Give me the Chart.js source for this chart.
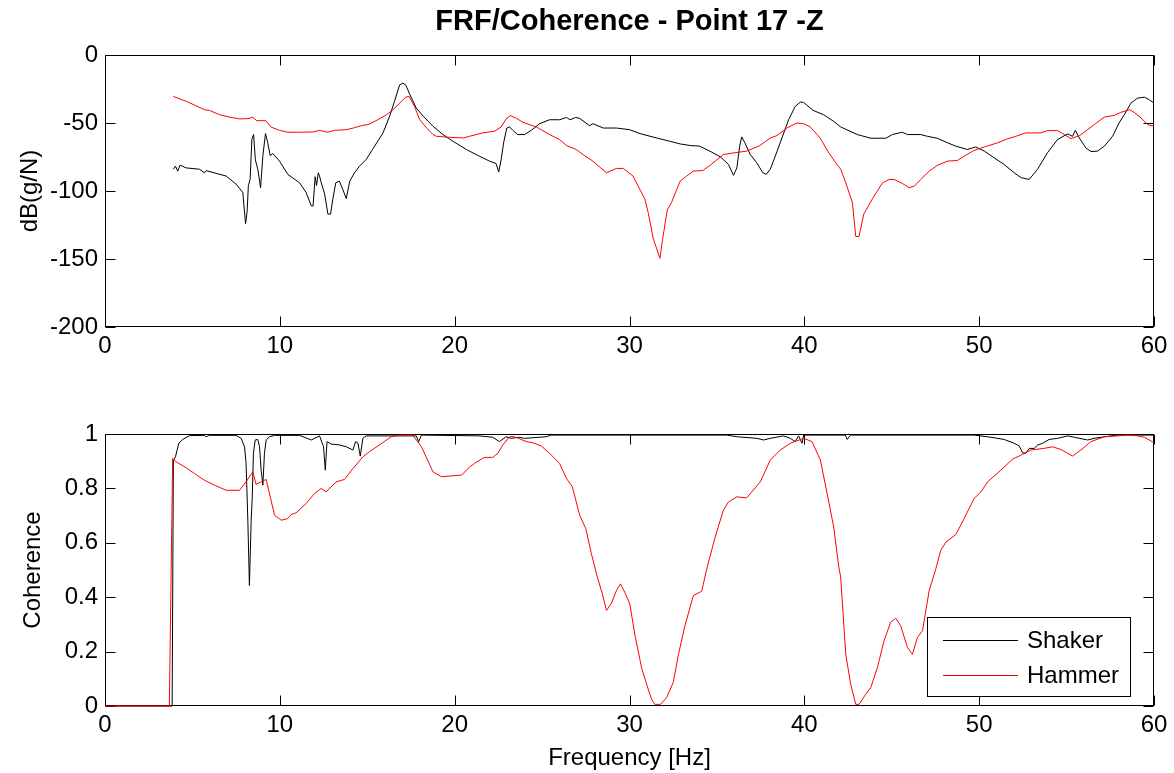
<!DOCTYPE html>
<html><head><meta charset="utf-8">
<script src="https://cdn.jsdelivr.net/npm/chart.js@4.4.1/dist/chart.umd.min.js"></script>
<style>
html,body{margin:0;padding:0;background:#fff;}
#wrap{position:relative;width:1174px;height:773px;overflow:hidden;}
canvas{position:absolute;left:0;}
#c1{top:0}
#c2{top:380px}
</style></head><body>
<div id="wrap"><canvas id="c1" width="1174" height="380"></canvas><canvas id="c2" width="1174" height="393"></canvas></div>
<script>
// ---------- DATA ----------
const seriesNames = ['Shaker', 'Hammer'];
const xTicksHz = [0, 10, 20, 30, 40, 50, 60];
const frfTicks = [-200, -150, -100, -50, 0];
const cohTicks = [0, 0.2, 0.4, 0.6, 0.8, 1];

const frfShakerHz = [3.91,4.03,4.16,4.29,4.64,5.4,5.69,5.78,6.35,6.93,7.5,7.88,8.04,8.13,8.2,8.3,8.4,8.5,8.6,8.74,8.9,9.03,9.18,9.31,9.45,9.6,9.98,10.46,11.13,11.5,11.8,11.9,12.02,12.1,12.2,12.27,12.37,12.56,12.75,12.9,13.03,13.2,13.4,13.6,13.8,14.0,14.27,14.56,14.94,15.3,15.9,16.28,16.56,16.85,17.04,17.2,17.4,17.8,18.2,18.76,19.33,19.9,20.67,21.41,21.99,22.37,22.52,22.66,22.8,22.98,23.14,23.33,23.6,24.0,24.38,24.86,25.43,26.0,26.4,26.6,26.92,27.15,27.72,27.9,28.5,29.25,30.0,30.6,31.55,32.3,32.9,33.5,34.0,34.6,35.2,35.66,35.95,36.14,36.3,36.42,36.6,36.9,37.28,37.63,37.82,38.05,38.34,38.72,39.1,39.48,39.77,39.96,40.5,41.1,41.68,42.08,43.03,43.8,44.66,45.04,45.6,45.9,46.66,47.04,47.6,48.2,48.66,49.33,49.8,50.3,50.86,51.43,52.0,52.4,52.86,53.34,53.9,54.48,55.06,55.34,55.5,55.73,56.1,56.4,56.77,57.16,57.63,58.0,58.3,58.68,59.06,59.45,59.73,60];
const frfShakerDb = [-84,-81.7,-85.4,-81,-83,-84,-86.6,-85,-87,-89,-95,-101,-124,-115,-96,-91.5,-62,-58.5,-77,-84,-97.6,-74,-57.8,-64.6,-74,-72.4,-78,-87.8,-94,-101,-111,-111,-89.5,-96,-86.6,-89,-94,-102,-117,-117,-106,-94,-92.7,-98.8,-105.6,-92.7,-86.6,-81.7,-76.8,-69.5,-57.3,-45,-34,-22,-20.7,-22,-28,-39,-45,-52.4,-58.5,-63.4,-69.5,-74.4,-78,-79.8,-86,-76.8,-64.6,-53.7,-52.9,-55.4,-58.5,-58.5,-55.4,-50.5,-47.6,-47.6,-45.9,-47.6,-45.9,-46.6,-52,-50.5,-53.7,-53.7,-54.9,-57.8,-61,-63.4,-65.4,-66.6,-67,-70.7,-74.9,-80.5,-88.5,-83,-67,-60.2,-64.6,-73,-79.3,-86.6,-87.8,-84,-74.4,-61,-47.6,-37.8,-34.6,-34.9,-40.7,-43.9,-48.8,-52.9,-58.5,-61.2,-61.2,-58.5,-56.8,-58.5,-58.5,-59.8,-61.2,-64.6,-67,-69.5,-67.6,-70.7,-75.6,-80.5,-86.6,-90.2,-91.5,-84,-72,-62.2,-58,-59.8,-55.4,-61,-68.3,-71,-70.7,-67,-59.8,-50,-43.9,-35.4,-31.7,-31,-32.9,-35.4];

const frfHammerHz = [3.91,4.64,5.2,5.69,5.97,6.55,7.1,7.7,8.17,8.45,8.68,9.2,9.5,9.98,10.46,11.13,11.9,12.27,12.75,13.13,13.8,14.2,14.75,15.04,15.5,16.1,16.47,16.85,17.2,17.4,17.7,18.0,18.4,18.76,18.95,19.7,20.5,20.84,21.6,22.28,22.66,22.94,23.17,23.5,23.9,24.67,25.43,26.0,26.4,26.96,27.34,27.9,28.68,29.25,29.64,30.2,30.88,31.07,31.36,31.74,31.9,32.16,32.4,32.9,33.27,33.65,34.2,34.6,35.37,35.95,36.7,37.46,38.05,38.43,39.0,39.58,39.96,40.34,40.9,41.4,41.87,42.08,42.37,42.75,42.94,43.13,43.4,43.9,44.47,44.85,45.13,45.6,46.0,46.3,46.66,47.14,47.6,48.2,48.76,49.14,49.7,50.3,51.05,51.6,52.0,52.67,53.53,53.9,54.48,54.87,55.25,55.73,56.2,56.58,57.16,57.73,58.1,58.6,58.87,59.26,59.64,60];
const frfHammerDb = [-30.5,-34,-37.3,-40.2,-40.7,-43.9,-45.6,-47,-46.8,-45.8,-48.3,-48.3,-53,-55.4,-56.8,-56.8,-56.6,-55.4,-56.8,-55.4,-54.9,-53.7,-51.7,-51.2,-48.3,-44,-40.2,-35.4,-31,-30.5,-37.8,-47.6,-53.7,-58.5,-59.8,-60.5,-61,-59.8,-57.3,-56,-52.9,-47,-44.6,-46.3,-49.5,-52.9,-58.5,-62.2,-66.6,-69.5,-73.2,-78,-86.6,-83.4,-83.4,-89,-106,-116,-135,-149.5,-135,-114,-108.5,-92.7,-89,-85.4,-84.9,-81.2,-73.2,-72,-70.7,-66.6,-61,-59.3,-53.7,-50,-50.5,-52.9,-61,-72,-80.5,-84,-94,-108.5,-133.4,-133.4,-117,-105.6,-94,-91.5,-91.5,-94.4,-97.6,-96.3,-91.5,-85.4,-81.2,-78,-77.6,-74.4,-70.2,-67.6,-64.6,-61.7,-60.2,-57.3,-57.3,-55.6,-55.6,-58.5,-61.5,-59.3,-54.9,-51.2,-45.6,-44.4,-42.2,-40.2,-42.2,-46.3,-51.2,-52.4];

const cohShakerHz = [0,3.84,3.91,4.03,4.22,4.45,4.83,5.69,5.78,5.97,7.5,7.79,7.98,8.07,8.17,8.26,8.36,8.42,8.49,8.59,8.74,8.84,8.93,9.03,9.12,9.22,9.41,9.7,11.13,11.8,12.27,12.5,12.6,12.7,12.94,13.4,13.8,14.18,14.33,14.47,14.6,14.75,14.94,17.8,17.94,18.1,21.43,22.18,22.56,22.94,23.23,23.7,24.0,25.24,25.53,35.56,36.14,37.28,37.67,38.05,38.81,39.2,39.48,39.67,39.87,39.96,42.35,42.45,42.64,49.71,50.1,50.67,51.43,52.0,52.29,52.48,52.67,52.86,53.15,53.34,53.63,54.0,54.48,55.06,55.44,56.2,56.58,56.97,57.92,60];
const cohShakerVal = [0,0,0.904,0.916,0.966,0.98,0.994,0.995,0.99,0.995,0.995,0.984,0.953,0.892,0.683,0.443,0.683,0.763,0.929,0.978,0.98,0.953,0.867,0.812,0.929,0.978,0.99,0.995,0.995,0.978,0.993,0.953,0.867,0.972,0.963,0.96,0.953,0.941,0.972,0.966,0.919,0.984,0.993,0.993,0.972,0.996,0.993,0.988,0.972,0.99,0.984,0.988,0.984,0.99,0.996,0.996,0.99,0.984,0.978,0.984,0.993,0.984,0.972,0.993,0.966,0.996,0.996,0.98,0.996,0.996,0.993,0.988,0.98,0.966,0.956,0.931,0.929,0.947,0.947,0.959,0.966,0.98,0.984,0.993,0.988,0.978,0.984,0.988,0.996,0.996];

const cohHammerHz = [0,3.68,3.87,4.06,4.64,5.11,5.69,6.26,6.93,7.69,8.07,8.45,8.64,9.22,9.45,9.7,10.08,10.46,10.65,10.93,11.5,11.98,12.37,12.65,13.22,13.7,14.18,14.75,15.13,15.7,16.37,16.85,17.6,18.1,18.76,19.24,20.4,20.86,21.13,21.7,22.18,22.47,22.75,23.14,23.42,24.1,24.47,24.95,25.43,26.0,26.4,26.73,27.15,27.5,27.82,28.16,28.45,28.68,28.97,29.25,29.48,29.73,30.02,30.3,30.69,30.98,31.26,31.45,31.78,32.12,32.5,32.8,33.17,33.65,34.13,34.42,34.9,35.37,35.66,36.14,36.7,37.48,38.05,38.62,39.2,39.96,40.44,40.92,41.4,41.68,41.97,42.08,42.37,42.65,42.94,43.13,43.51,43.8,44.18,44.56,44.94,45.23,45.51,45.9,46.18,46.47,46.76,47.14,47.52,47.8,48.1,48.66,49.14,49.71,50.1,50.48,51.24,51.9,52.38,52.96,53.7,54.2,54.68,55.34,55.82,56.4,57.16,57.92,58.5,59.06,59.45,60];
const cohHammerVal = [0,0,0.91,0.898,0.876,0.855,0.83,0.812,0.793,0.793,0.824,0.861,0.815,0.833,0.769,0.701,0.683,0.689,0.704,0.71,0.744,0.781,0.8,0.787,0.824,0.833,0.873,0.916,0.935,0.96,0.99,0.996,0.996,0.953,0.861,0.843,0.849,0.879,0.892,0.914,0.914,0.929,0.959,0.99,0.99,0.972,0.968,0.956,0.929,0.892,0.836,0.806,0.701,0.652,0.56,0.474,0.412,0.351,0.378,0.424,0.449,0.418,0.375,0.264,0.141,0.08,0.025,0.006,0.006,0.031,0.086,0.19,0.295,0.406,0.422,0.504,0.621,0.72,0.75,0.769,0.765,0.824,0.904,0.941,0.966,0.984,0.972,0.904,0.75,0.658,0.511,0.474,0.19,0.08,0.006,0.006,0.043,0.068,0.141,0.24,0.308,0.323,0.295,0.215,0.19,0.252,0.277,0.424,0.504,0.572,0.603,0.63,0.689,0.763,0.787,0.824,0.867,0.907,0.922,0.941,0.947,0.953,0.943,0.919,0.941,0.972,0.99,0.993,0.996,0.993,0.988,0.968];

// ---------- STYLE / SETUP ----------
const FONT = "'Liberation Sans', Arial, Helvetica, sans-serif";
Chart.defaults.font.family = FONT;
Chart.defaults.color = '#000';
const colors = ['#000000', '#ff0000'];

function zip(xs, ys) { return xs.map((x, i) => ({ x: x, y: ys[i] })); }

function makeDatasets(xsA, ysA, xsB, ysB) {
  return [
    { label: seriesNames[0], data: zip(xsA, ysA), borderColor: colors[0], borderWidth: 1, pointRadius: 0, tension: 0, fill: false, order: 1, clip: 2 },
    { label: seriesNames[1], data: zip(xsB, ysB), borderColor: colors[1], borderWidth: 1, pointRadius: 0, tension: 0, fill: false, order: 0, clip: 2 }
  ];
}

const boxPlugin = {
  id: 'matlabBox',
  beforeDatasetsDraw(chart) {
    const { ctx, chartArea: a, scales } = chart;
    ctx.save();
    ctx.strokeStyle = '#000';
    ctx.lineWidth = 1;
    const L = Math.round(a.left) + 0.5, R = Math.round(a.right) - 0.5;
    const T = Math.round(a.top) + 0.5, B = Math.round(a.bottom) - 0.5;
    ctx.strokeRect(L, T, R - L, B - T);
    const tl = 10;
    ctx.beginPath();
    scales.x.ticks.forEach(t => {
      const px = Math.round(scales.x.getPixelForValue(t.value)) + 0.5;
      ctx.moveTo(px, B); ctx.lineTo(px, B - tl);
      ctx.moveTo(px, T); ctx.lineTo(px, T + tl);
    });
    scales.y.ticks.forEach(t => {
      const py = Math.round(scales.y.getPixelForValue(t.value)) + 0.5;
      ctx.moveTo(L, py); ctx.lineTo(L + tl, py);
      ctx.moveTo(R, py); ctx.lineTo(R - tl, py);
    });
    ctx.stroke();
    ctx.restore();
  }
};

const legendPlugin = {
  id: 'boxLegend',
  afterDraw(chart) {
    if (!chart.options.plugins.boxLegend || !chart.options.plugins.boxLegend.show) return;
    const { ctx, chartArea: a } = chart;
    const right = Math.round(a.right) - 23, bottom = Math.round(a.bottom) - 9;
    const w = 204, h = 80;
    const left = right - w, top = bottom - h;
    ctx.save();
    ctx.fillStyle = '#fff';
    ctx.fillRect(left, top, w, h);
    ctx.strokeStyle = '#000';
    ctx.lineWidth = 1;
    ctx.strokeRect(left + 0.5, top + 0.5, w - 1, h - 1);
    ctx.font = '24px ' + FONT;
    ctx.textBaseline = 'alphabetic';
    ctx.textAlign = 'left';
    chart.data.datasets.forEach((ds, i) => {
      const ly = top + 23 + i * 35 + 0.5;
      ctx.strokeStyle = ds.borderColor;
      ctx.beginPath();
      ctx.moveTo(left + 16, ly);
      ctx.lineTo(left + 91, ly);
      ctx.stroke();
      ctx.fillStyle = '#000';
      ctx.fillText(ds.label, left + 100, top + 31 + i * 35);
    });
    ctx.restore();
  }
};

function xScale(showTitle, axisHeight) {
  return {
    type: 'linear', min: 0, max: 60,
    afterBuildTicks: s => { s.ticks = xTicksHz.map(v => ({ value: v })); },
    ticks: { font: { size: 24 }, padding: 5, maxRotation: 0, autoSkip: false, color: '#000' },
    grid: { display: false, drawTicks: false },
    border: { display: false },
    title: { display: showTitle, text: 'Frequency [Hz]', font: { size: 24 }, padding: { top: 0, bottom: 0 }, color: '#000' },
    afterFit: s => { s.height = axisHeight; }
  };
}

function yScale(min, max, tickVals, title, titlePad, fmt) {
  return {
    type: 'linear', min: min, max: max,
    afterBuildTicks: s => { s.ticks = tickVals.map(v => ({ value: v })); },
    ticks: { font: { size: 24 }, padding: 7, color: '#000', callback: fmt },
    grid: { display: false, drawTicks: false },
    border: { display: false },
    title: { display: true, text: title, font: { size: 24 }, padding: { top: titlePad, bottom: 0 }, color: '#000' },
    afterFit: s => { s.width = 105; }
  };
}

new Chart(document.getElementById('c1'), {
  type: 'line',
  data: { datasets: makeDatasets(frfShakerHz, frfShakerDb, frfHammerHz, frfHammerDb) },
  options: {
    responsive: false, animation: false, events: [],
    layout: { padding: { top: 0, right: 20, bottom: 0, left: 0 } },
    plugins: {
      legend: { display: false }, tooltip: { enabled: false },
      title: { display: true, fullSize: false, text: 'FRF/Coherence - Point 17 -Z', font: { size: 29, weight: 'bold' }, color: '#000', padding: { top: 5, bottom: 15.2 } }
    },
    scales: {
      x: xScale(false, 53),
      y: yScale(-200, 0, frfTicks, 'dB(g/N)', 16, v => String(v))
    }
  },
  plugins: [boxPlugin]
});

new Chart(document.getElementById('c2'), {
  type: 'line',
  data: { datasets: makeDatasets(cohShakerHz, cohShakerVal, cohHammerHz, cohHammerVal) },
  options: {
    responsive: false, animation: false, events: [],
    layout: { padding: { top: 54, right: 20, bottom: 0, left: 0 } },
    plugins: { legend: { display: false }, tooltip: { enabled: false }, boxLegend: { show: true } },
    scales: {
      x: xScale(true, 67),
      y: yScale(0, 1, cohTicks, 'Coherence', 19, v => String(Math.round(v * 10) / 10))
    }
  },
  plugins: [boxPlugin, legendPlugin]
});
</script>
</body></html>
